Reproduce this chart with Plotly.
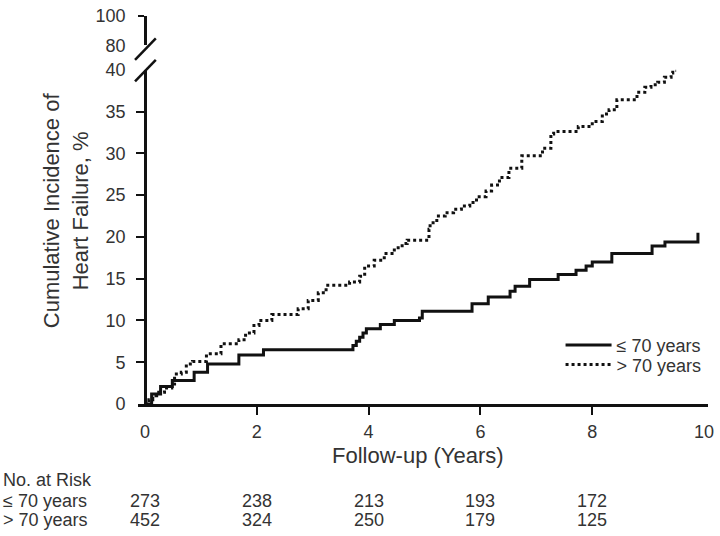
import plotly.graph_objects as go

# ---------------- data ----------------
years_le70 = [0, 0.12, 0.28, 0.49, 0.88, 1.12, 1.68, 2.12, 3.72, 3.78, 3.84, 3.90, 3.96,
              4.21, 4.46, 4.91, 4.96, 5.85, 6.14, 6.53, 6.62, 6.88, 7.39, 7.71, 7.89,
              8.00, 8.35, 9.07, 9.30, 9.89]
cuminc_le70 = [0, 1.2, 2.1, 2.8, 3.8, 4.8, 5.85, 6.5, 7.0, 7.5, 8.0, 8.5, 9.0,
               9.5, 10.0, 10.3, 11.1, 12.0, 12.8, 13.5, 14.1, 14.9, 15.5, 16.0, 16.5,
               17.0, 18.0, 18.9, 19.4, 20.5]

years_gt70 = [0, 0.07, 0.14, 0.21, 0.35, 0.48, 0.53, 0.65, 0.74, 0.85, 1.10, 1.36,
              1.68, 1.80, 1.95, 2.04, 2.27, 2.74, 2.92, 3.10, 3.24, 3.66, 3.84, 3.93,
              4.10, 4.28, 4.46, 4.60, 4.69, 5.08, 5.10, 5.22, 5.37, 5.52, 5.66, 5.81,
              5.93, 6.10, 6.20, 6.34, 6.51, 6.74, 7.11, 7.26, 7.31, 7.75, 8.00, 8.18,
              8.30, 8.44, 8.80, 8.94, 9.05, 9.17, 9.29, 9.41, 9.44, 9.50]
cuminc_gt70 = [0, 0.5, 1.0, 1.4, 1.9, 2.4, 3.6, 3.8, 4.8, 5.1, 6.0, 7.2,
               7.7, 8.5, 9.4, 10.0, 10.7, 11.4, 12.4, 13.3, 14.2, 14.6, 15.3, 16.5,
               17.2, 18.0, 18.7, 19.2, 19.6, 20.9, 21.7, 22.5, 22.9, 23.3, 23.7, 24.1,
               24.8, 25.5, 26.2, 27.1, 28.2, 29.7, 30.6, 32.3, 32.6, 33.2, 33.8, 34.7,
               35.2, 36.4, 37.3, 37.9, 38.2, 38.5, 39.1, 39.6, 39.9, 39.9]

group_labels = ["\u2264 70 years", "> 70 years"]
x_ticks = [0, 2, 4, 6, 8, 10]
y_ticks_main = [0, 5, 10, 15, 20, 25, 30, 35, 40]
y_ticks_top = [80, 100]
risk_times = [0, 2, 4, 6, 8]
risk_le70 = [273, 238, 213, 193, 172]
risk_gt70 = [452, 324, 250, 179, 125]

# ---------------- layout geometry ----------------
W, H = 720, 536
L, R, T, B = 138, 6, 7, 132
PW, PH = W - L - R, H - T - B
X_RANGE = [-0.124, 10.07]
FONT = "Liberation Sans, Arial, Helvetica, sans-serif"
TXT = "#333333"
INK = "#111111"


def px_x(p):
    return (p - L) / PW


def px_y(p):
    return (H - B - p) / PH


y_pos = (0 - X_RANGE[0]) / (X_RANGE[1] - X_RANGE[0])
main_dom = [0, px_y(62)]
top_dom = [px_y(37), 1]

fig = go.Figure()
fig.add_trace(go.Scatter(x=years_le70, y=cuminc_le70, mode="lines", name=group_labels[0],
                         line=dict(color=INK, width=3, shape="hv"), xaxis="x", yaxis="y",
                         legend="legend"))
fig.add_trace(go.Scatter(x=years_gt70, y=cuminc_gt70, mode="lines", name=group_labels[1],
                         line=dict(color=INK, width=3, shape="hv", dash="dot"), xaxis="x", yaxis="y",
                         legend="legend2"))
fig.add_trace(go.Scatter(x=[None], y=[None], mode="lines", showlegend=False, hoverinfo="skip",
                         xaxis="x", yaxis="y2"))

tickfont = dict(family=FONT, size=18, color=TXT)
legfont = dict(family=FONT, size=18, color=TXT)


def leg(ypx):
    return dict(x=px_x(565), y=px_y(ypx), xanchor="left", yanchor="middle",
                font=legfont, bgcolor="rgba(0,0,0,0)", itemwidth=46, tracegroupgap=0)


fig.update_layout(
    width=W, height=H,
    margin=dict(l=L, r=R, t=T, b=B),
    paper_bgcolor="white", plot_bgcolor="white",
    showlegend=True,
    legend=leg(344),
    legend2=leg(364),
    xaxis=dict(range=X_RANGE, domain=[0, 1], anchor="y", showgrid=False, zeroline=False,
               showline=True, linecolor=INK, linewidth=2.5,
               tickmode="array", tickvals=x_ticks, ticks="outside", ticklen=10,
               tickcolor="rgba(0,0,0,0)", tickfont=tickfont, ticklabeloverflow="allow",
               minor=dict(tickmode="array", tickvals=[2, 4, 6, 8], ticks="outside",
                          ticklen=8, tickwidth=2, tickcolor=INK, showgrid=False)),
    yaxis=dict(range=[0, 40], domain=main_dom, anchor="free", position=y_pos,
               showgrid=False, zeroline=False, showline=True, linecolor=INK, linewidth=2.5,
               tickmode="array", tickvals=y_ticks_main, ticks="outside", ticklen=15,
               tickcolor="rgba(0,0,0,0)", tickfont=tickfont,
               minor=dict(tickmode="array", tickvals=y_ticks_main[1:-1], ticks="outside",
                          ticklen=8, tickwidth=2, tickcolor=INK, showgrid=False)),
    yaxis2=dict(range=[80, 100], domain=top_dom, anchor="free", position=y_pos,
                showgrid=False, zeroline=False, showline=True, linecolor=INK, linewidth=2.5,
                tickmode="array", tickvals=y_ticks_top, ticks="outside", ticklen=15,
                tickcolor="rgba(0,0,0,0)", tickfont=tickfont,
                minor=dict(tickmode="array", tickvals=[100], ticks="outside",
                           ticklen=6, tickwidth=2, tickcolor=INK, showgrid=False)),
)

# axis-break slashes
for (x0, y0, x1, y1) in [(135, 52, 156, 30), (135, 74, 156, 52)]:
    fig.add_shape(type="line", xref="paper", yref="paper",
                  x0=px_x(x0), y0=px_y(y0), x1=px_x(x1), y1=px_y(y1),
                  line=dict(color=INK, width=2.5))

ann = []
ann.append(dict(text="Cumulative Incidence of<br>Heart Failure, %", textangle=-90,
                xref="paper", yref="paper", x=px_x(66), y=px_y(206),
                xanchor="center", yanchor="middle", showarrow=False,
                font=dict(family=FONT, size=22, color=TXT)))
ann.append(dict(text="Follow-up (Years)", xref="paper", yref="paper",
                x=px_x(421), y=px_y(457), xanchor="center", yanchor="middle",
                showarrow=False, font=dict(family=FONT, size=22, color=TXT)))
ann.append(dict(text="No. at Risk", xref="paper", yref="paper", x=px_x(0), y=px_y(482),
                xanchor="left", yanchor="middle", showarrow=False,
                font=dict(family=FONT, size=18, color=TXT)))
for lab, row, ypx in [(group_labels[0], risk_le70, 503), (group_labels[1], risk_gt70, 523)]:
    ann.append(dict(text=lab, xref="paper", yref="paper", x=px_x(0), y=px_y(ypx),
                    xanchor="left", yanchor="middle", showarrow=False,
                    font=dict(family=FONT, size=18, color=TXT)))
    for t, n in zip(risk_times, row):
        ann.append(dict(text=str(n), xref="x", yref="paper", x=t, y=px_y(ypx),
                        xanchor="center", yanchor="middle", showarrow=False,
                        font=dict(family=FONT, size=18, color=TXT)))
fig.update_layout(annotations=ann)

# remove the browser's default 8px body margin so the figure fills the window exactly
fig.write_html("out.html", config={"displayModeBar": False},
               post_script="document.body.style.margin='0';")
